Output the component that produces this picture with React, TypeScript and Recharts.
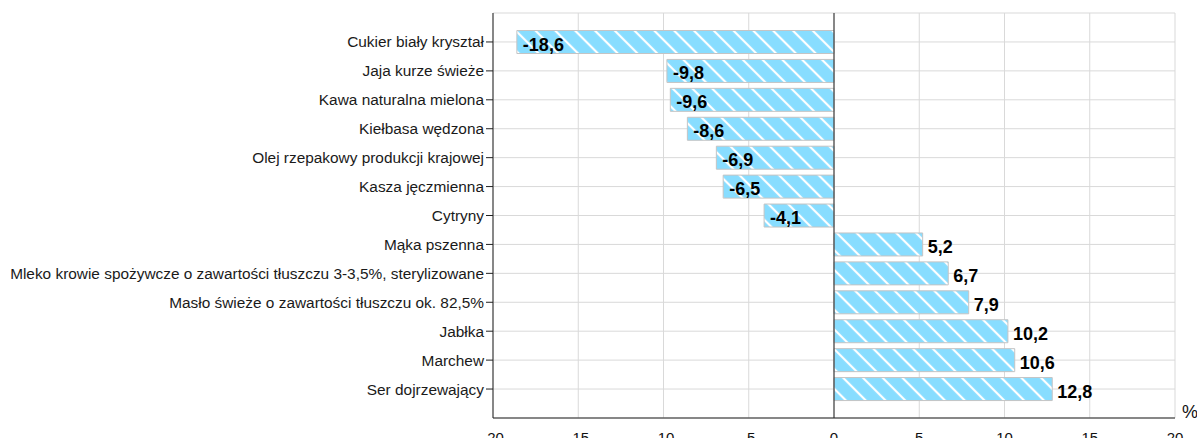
import React from 'react';
import { BarChart, Bar, XAxis, YAxis, CartesianGrid, ReferenceLine, LabelList } from 'recharts';

// categories top to bottom, values in %
const categories = [
  'Cukier biały kryształ',
  'Jaja kurze świeże',
  'Kawa naturalna mielona',
  'Kiełbasa wędzona',
  'Olej rzepakowy produkcji krajowej',
  'Kasza jęczmienna',
  'Cytryny',
  'Mąka pszenna',
  'Mleko krowie spożywcze o zawartości tłuszczu 3-3,5%, sterylizowane',
  'Masło świeże o zawartości tłuszczu ok. 82,5%',
  'Jabłka',
  'Marchew',
  'Ser dojrzewający',
];

const changes = [-18.6, -9.8, -9.6, -8.6, -6.9, -6.5, -4.1, 5.2, 6.7, 7.9, 10.2, 10.6, 12.8];

const xTicks = [-20, -15, -10, -5, 0, 5, 10, 15, 20];

const data = categories.map((name, i) => ({ name, value: changes[i] }));

const font = '"Liberation Sans", Arial, sans-serif';
const frame = '#222';

const fmt = (v: number) => v.toFixed(1).replace('.', ',');

const ValueLabel = (props: any) => {
  const { x, y, width, height, value } = props;
  const end = x + width;
  return (
    <text
      x={end + (value < 0 ? 6 : 5)}
      y={y + height / 2 + 8.5}
      fontFamily={font}
      fontSize={18}
      fontWeight="bold"
      fill="#000"
      textAnchor="start"
    >
      {fmt(value)}
    </text>
  );
};

const PercentLabel = (props: any) => {
  const vb = props.viewBox || {};
  return (
    <text x={vb.x + vb.width + 7} y={vb.y} fontFamily={font} fontSize={18} fill="#111">
      %
    </text>
  );
};

export default function App() {
  return (
    <div style={{ width: 1197, height: 438 }}>
      <style>{'body{margin:0}'}</style>
      <BarChart
        width={1197}
        height={438}
        data={data}
        layout="vertical"
        margin={{ top: 13, right: 22, bottom: 0, left: 0 }}
        barSize={23}
      >
        <defs>
          <pattern id="hatch" width="14" height="14" patternUnits="userSpaceOnUse" patternTransform="rotate(45)">
            <rect width="14" height="14" fill="#88DDFF" />
            <line x1="0" y1="7" x2="14" y2="7" stroke="#fff" strokeWidth={2.2} />
          </pattern>
        </defs>
        <CartesianGrid stroke="#d9d9d9" />
        {/* inward tick marks along the bottom edge */}
        <XAxis
          xAxisId="bottomTicks"
          type="number"
          domain={[-20, 20]}
          ticks={xTicks}
          height={0}
          mirror
          tickSize={5}
          tick={false}
          axisLine={{ stroke: frame }}
          tickLine={{ stroke: frame }}
        />
        <XAxis
          type="number"
          domain={[-20, 20]}
          ticks={xTicks}
          height={20}
          tickSize={0}
          tickMargin={14}
          axisLine={{ stroke: frame }}
          tickLine={false}
          tick={{ fontFamily: font, fontSize: 15, fill: '#111' }}
          label={<PercentLabel />}
        />
        <XAxis
          xAxisId="top"
          orientation="top"
          type="number"
          domain={[-20, 20]}
          ticks={xTicks}
          height={0}
          mirror
          tickSize={5}
          tick={false}
          axisLine={{ stroke: frame }}
          tickLine={{ stroke: frame }}
        />
        <YAxis
          type="category"
          dataKey="name"
          width={493}
          interval={0}
          tickSize={7}
          padding={{ top: 14.5, bottom: 14.5 }}
          axisLine={{ stroke: frame }}
          tickLine={{ stroke: frame }}
          tick={{ fontFamily: font, fontSize: 15.4, fill: '#1a1a1a' }}
        />
        <YAxis
          yAxisId="right"
          orientation="right"
          type="category"
          dataKey="name"
          width={0}
          mirror
          interval={0}
          tickSize={7}
          tick={false}
          padding={{ top: 14.5, bottom: 14.5 }}
          axisLine={{ stroke: frame }}
          tickLine={{ stroke: frame }}
        />
        <Bar dataKey="value" fill="url(#hatch)" stroke="#c4c4c4" strokeWidth={1} isAnimationActive={false}>
          <LabelList dataKey="value" content={<ValueLabel />} />
        </Bar>
        <ReferenceLine x={0} stroke={frame} strokeWidth={1} />
      </BarChart>
    </div>
  );
}
